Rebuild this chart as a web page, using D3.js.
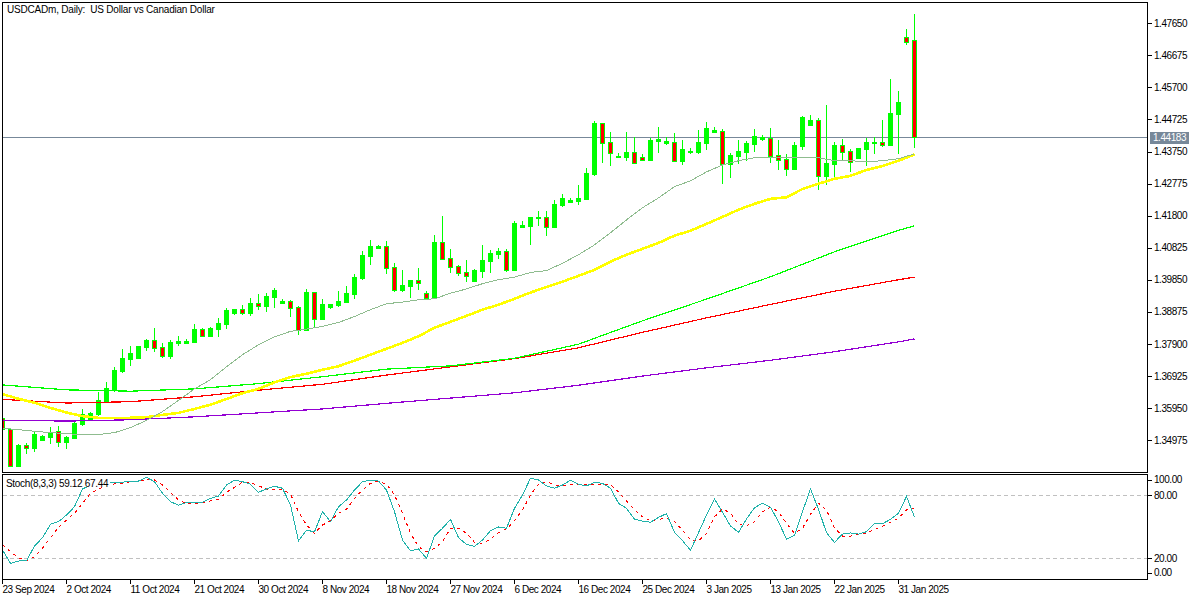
<!DOCTYPE html>
<html>
<head>
<meta charset="utf-8">
<title>USDCADm, Daily</title>
<script src="https://cdnjs.cloudflare.com/ajax/libs/d3/7.8.5/d3.min.js"></script>
<style>
	html, body {margin:0; padding:0; background:#fff;}
	svg {display:block;}
	text {font-family:"Liberation Sans", Arial, sans-serif; font-size:10px; fill:#000;}
	.axis path {display:none;}
	.axis line {stroke:#000; shape-rendering:crispEdges;}
	.axis text, .price_box {letter-spacing:-0.45px;}
	.title {letter-spacing:-0.2px; white-space:pre;}
	.stoch_label {letter-spacing:-0.33px;}
</style>
</head>
<body>
<svg id="chart" width="1200" height="600"></svg>
<script>
var open_prices = [1.3563,1.3530,1.3419,1.3482,1.3474,1.3497,1.3507,1.3524,1.3491,1.3504,1.3546,1.3559,1.3577,1.3616,1.3653,1.3707,1.3744,1.3747,1.3780,1.3802,
	1.3779,1.3753,1.3792,1.3792,1.3796,1.3835,1.3814,1.3835,1.3850,1.3884,1.3896,1.3884,1.3914,1.3905,1.3932,1.3914,1.3920,1.3902,1.3832,1.3948,
	1.3866,1.3902,1.3908,1.3917,1.3942,1.3990,1.4057,1.4082,1.4088,1.4024,1.3954,1.3966,1.3984,1.3945,1.3929,1.4100,1.4051,1.4027,1.4009,1.3981,
	1.4012,1.4042,1.4063,1.4072,1.4015,1.4146,1.4149,1.4173,1.4176,1.4146,1.4212,1.4222,1.4225,1.4231,1.4307,1.4462,1.4404,1.4358,1.4358,1.4374,
	1.4358,1.4349,1.4407,1.4401,1.4404,1.4346,1.4374,1.4374,1.4401,1.4435,1.4438,1.4337,1.4361,1.4374,1.4398,1.4413,1.4416,1.4365,1.4352,1.4322,
	1.4392,1.4456,1.4471,1.4301,1.4337,1.4395,1.4377,1.4355,1.4383,1.4401,1.4404,1.4395,1.4489,1.4723,1.4714];
var high_prices = [1.3567,1.3531,1.3484,1.3489,1.3523,1.3512,1.3537,1.3540,1.3511,1.3558,1.3592,1.3583,1.3643,1.3674,1.3719,1.3774,1.3783,1.3783,1.3805,1.3838,
	1.3792,1.3802,1.3814,1.3805,1.3850,1.3838,1.3841,1.3869,1.3899,1.3896,1.3908,1.3929,1.3942,1.3945,1.3960,1.3926,1.3923,1.3905,1.3957,1.3948,
	1.3926,1.3911,1.3951,1.3966,1.4002,1.4072,1.4106,1.4091,1.4103,1.4036,1.4015,1.3984,1.4021,1.3951,1.4121,1.4179,1.4079,1.4030,1.4045,1.4018,
	1.4091,1.4075,1.4082,1.4079,1.4164,1.4164,1.4176,1.4194,1.4194,1.4228,1.4246,1.4234,1.4273,1.4325,1.4468,1.4462,1.4434,1.4371,1.4434,1.4419,
	1.4368,1.4416,1.4450,1.4419,1.4431,1.4410,1.4386,1.4441,1.4465,1.4450,1.4444,1.4371,1.4410,1.4407,1.4444,1.4425,1.4447,1.4410,1.4368,1.4404,
	1.4483,1.4486,1.4477,1.4516,1.4404,1.4413,1.4383,1.4386,1.4416,1.4419,1.4471,1.4596,1.4559,1.4748,1.4793];
var low_prices = [1.3528,1.3418,1.3415,1.3456,1.3462,1.3496,1.3486,1.3476,1.3470,1.3503,1.3540,1.3558,1.3570,1.3610,1.3643,1.3701,1.3722,1.3747,1.3768,1.3765,
	1.3747,1.3744,1.3783,1.3790,1.3793,1.3811,1.3814,1.3811,1.3835,1.3877,1.3877,1.3874,1.3893,1.3887,1.3899,1.3911,1.3871,1.3817,1.3829,1.3838,
	1.3863,1.3896,1.3902,1.3914,1.3926,1.3984,1.4030,1.4079,1.4002,1.3948,1.3948,1.3929,1.3954,1.3929,1.3927,1.4048,1.4006,1.3997,1.3979,1.3981,
	1.3990,1.4006,1.4048,1.4009,1.4015,1.4146,1.4091,1.4149,1.4118,1.4146,1.4206,1.4222,1.4212,1.4228,1.4301,1.4340,1.4331,1.4355,1.4346,1.4337,
	1.4346,1.4346,1.4371,1.4395,1.4343,1.4334,1.4368,1.4368,1.4380,1.4435,1.4276,1.4295,1.4337,1.4346,1.4374,1.4407,1.4340,1.4319,1.4301,1.4319,
	1.4380,1.4456,1.4258,1.4273,1.4298,1.4346,1.4313,1.4355,1.4331,1.4368,1.4389,1.4395,1.4368,1.4699,1.4386];
var close_prices = [1.3531,1.3419,1.3482,1.3474,1.3516,1.3510,1.3523,1.3492,1.3507,1.3549,1.3577,1.3579,1.3619,1.3656,1.3710,1.3747,1.3762,1.3783,1.3802,1.3777,
	1.3753,1.3796,1.3799,1.3799,1.3835,1.3814,1.3838,1.3853,1.3893,1.3896,1.3884,1.3914,1.3905,1.3935,1.3954,1.3920,1.3899,1.3832,1.3948,1.3866,
	1.3911,1.3911,1.3920,1.3945,1.3993,1.4060,1.4088,1.4088,1.4021,1.3954,1.3969,1.3984,1.3975,1.3929,1.4100,1.4048,1.4024,1.4006,1.3997,1.4015,
	1.4045,1.4067,1.4072,1.4015,1.4158,1.4152,1.4176,1.4176,1.4146,1.4215,1.4234,1.4228,1.4234,1.4310,1.4462,1.4401,1.4371,1.4361,1.4374,1.4340,
	1.4349,1.4410,1.4413,1.4407,1.4346,1.4383,1.4377,1.4404,1.4447,1.4441,1.4337,1.4365,1.4377,1.4401,1.4422,1.4419,1.4361,1.4349,1.4322,1.4395,
	1.4480,1.4471,1.4301,1.4340,1.4395,1.4374,1.4343,1.4386,1.4404,1.4404,1.4395,1.4492,1.4526,1.4708,1.44183];

// moving averages read every 2 bars (short ones) and every 8 bars (long ones)
var short_ma_bars = d3.range(0,115,2);
var long_ma_bars = [0,8,16,24,32,40,48,56,64,72,80,88,96,104,112,114];
var ma_grey = [1.3533,1.3529,1.3524,1.3520,1.3517,1.3513,1.3514,1.3520,1.3535,1.3557,1.3584,1.3618,1.3653,1.3681,1.3720,1.3757,1.3787,1.3811,1.3828,1.3835,
	1.3843,1.3855,1.3873,1.3894,1.3912,1.3917,1.3924,1.3927,1.3944,1.3957,1.3973,1.3985,1.3993,1.4007,1.4013,1.4035,1.4061,1.4091,1.4128,1.4167,
	1.4204,1.4234,1.4268,1.4286,1.4313,1.4334,1.4347,1.4356,1.4356,1.4356,1.4356,1.4356,1.4347,1.4347,1.4344,1.4347,1.4353,1.4368];
var ma_yellow = [1.3637,1.3623,1.3611,1.3595,1.3581,1.3570,1.3565,1.3565,1.3565,1.3567,1.3574,1.3580,1.3592,1.3605,1.3622,1.3640,1.3653,1.3673,1.3689,1.3699,
	1.3711,1.3722,1.3739,1.3757,1.3775,1.3793,1.3813,1.3839,1.3857,1.3875,1.3894,1.3909,1.3927,1.3946,1.3963,1.3979,1.3997,1.4015,1.4040,1.4061,
	1.4079,1.4097,1.4119,1.4134,1.4155,1.4176,1.4198,1.4216,1.4231,1.4236,1.4261,1.4277,1.4292,1.4301,1.4319,1.4331,1.4347,1.4366];
var ma_lime = [1.3665,1.3650,1.3646,1.3653,1.3669,1.3690,1.3713,1.3723,1.3746,1.3789,1.3860,1.3926,1.3994,1.4070,1.4135,1.4149];
var ma_red = [1.3621,1.3610,1.3614,1.3629,1.3649,1.3667,1.3695,1.3720,1.3745,1.3778,1.3825,1.3869,1.3910,1.3950,1.3985,1.3993];
var ma_purple = [1.3558,1.3555,1.3559,1.3568,1.3580,1.3592,1.3609,1.3625,1.3641,1.3664,1.3692,1.3717,1.3740,1.3766,1.3796,1.3805];

var stoch_main = [27.9,15.2,17.4,17.7,31.7,39.6,52.4,54.9,61.2,69.1,86.0,89.8,91.4,92.0,92.4,92.4,93.6,93.6,97.1,93.0,
	81.9,73.9,70.5,73.3,73.3,73.3,77.1,79.3,89.8,94.3,93.0,90.5,82.9,86.0,88.6,86.7,70.8,36.5,46.7,45.3,
	64.4,54.9,69.1,75.5,85.0,93.0,94.3,93.6,85.0,64.4,37.4,27.2,28.9,20.0,41.2,48.6,57.1,39.6,33.3,31.4,
	37.4,46.3,49.8,48.6,67.6,80.3,96.2,94.6,88.9,86.7,89.8,94.3,90.5,88.9,92.4,91.4,86.7,72.4,67.6,57.4,
	55.5,54.3,59.0,62.5,44.8,36.8,27.6,44.4,61.2,76.5,63.8,50.8,44.8,57.4,68.2,72.4,68.6,54.9,38.1,41.9,
	64.4,86.0,66.7,44.4,35.2,43.1,44.1,43.1,45.3,53.0,53.0,57.1,62.9,79.0,59.12];
var stoch_signal = [32.7,26.3,20.6,17.7,21.5,29.5,39.6,49.5,56.5,62.9,72.4,81.9,86.0,89.1,90.8,91.4,93.0,93.6,94.6,94.6,
	89.8,82.9,75.5,72.4,72.4,73.0,74.6,76.2,82.9,87.6,92.4,92.0,89.1,86.0,86.0,86.0,81.0,64.4,51.7,43.8,
	51.7,55.5,62.9,66.7,77.1,85.0,91.4,93.6,90.5,80.3,62.9,43.8,31.0,26.3,29.5,35.8,48.6,48.6,43.8,35.2,
	34.3,38.4,44.4,47.9,55.8,66.0,80.3,90.5,93.0,89.8,89.1,90.5,90.5,90.1,90.5,90.8,89.8,83.4,74.6,66.0,
	59.6,55.8,57.1,58.1,54.9,47.0,37.4,36.5,43.8,59.6,66.7,63.4,52.4,50.8,54.9,64.4,68.6,64.4,53.3,43.8,
	48.6,61.9,72.4,66.0,48.6,41.2,41.2,42.9,44.1,47.6,50.5,54.3,58.1,66.0,67.44];

var price_ticks = [1.47650,1.46675,1.45700,1.44725,1.43750,1.42775,1.41800,1.40825,1.39850,1.38875,1.37900,1.36925,1.35950,1.34975];
var stoch_ticks = [100,80,20,0];
var stoch_levels = [80,20];
var date_ticks = [0,8,16,24,32,40,48,56,64,72,80,88,96,104,112];
var date_labels = ["23 Sep 2024","2 Oct 2024","11 Oct 2024","21 Oct 2024","30 Oct 2024","8 Nov 2024","18 Nov 2024","27 Nov 2024","6 Dec 2024","16 Dec 2024","25 Dec 2024","3 Jan 2025","13 Jan 2025","22 Jan 2025","31 Jan 2025"];
var last_price = 1.44183;

var svg = d3.select("#chart");
var left = 2, right = 1147, main_top = 2, main_bottom = 472, sub_top = 474, sub_bottom = 579;

var x = d3.scaleLinear().domain([0,114]).range([2,914]);
var y = d3.scaleLinear().domain([1.47650,1.34975]).range([23.3,440]);
var y_stoch = d3.scaleLinear().domain([0,100]).range([579.3,474.3]);

svg.append("clipPath").attr("id","main_clip").append("rect")
	.attr("x",left+1).attr("y",main_top+1).attr("width",right-left-1).attr("height",main_bottom-main_top-1);
svg.append("clipPath").attr("id","sub_clip").append("rect")
	.attr("x",left+1).attr("y",sub_top+1).attr("width",right-left-1).attr("height",sub_bottom-sub_top-1);

var main = svg.append("g").attr("clip-path","url(#main_clip)");
var sub = svg.append("g").attr("clip-path","url(#sub_clip)");

/////////////////////////////////////////////////////////////
// last price line, below the candles
main.append("rect")
	.attr("x",left).attr("width",right-left)
	.attr("y",Math.floor(y(last_price))).attr("height",1)
	.attr("fill","#778899");

/////////////////////////////////////////////////////////////
// candles, the datum of each one is its bar number
function body_top(i){return Math.round(y(Math.max(open_prices[i],close_prices[i])));}
function body_bottom(i){return Math.round(y(Math.min(open_prices[i],close_prices[i])));}

var candles = main.selectAll(".candle").data(d3.range(open_prices.length)).enter().append("g")
	.attr("class","candle")
	.attr("shape-rendering","crispEdges");

candles.append("rect")
	.attr("x",function(i){return x(i);})
	.attr("width",1)
	.attr("y",function(i){return Math.round(y(high_prices[i]));})
	.attr("height",function(i){return Math.max(1,Math.round(y(low_prices[i]))-Math.round(y(high_prices[i])));})
	.attr("fill","#00ff00");

candles.append("rect")
	.attr("x",function(i){return x(i)-2;})
	.attr("width",5)
	.attr("y",body_top)
	.attr("height",function(i){return Math.max(1,body_bottom(i)-body_top(i)+1);})
	.attr("fill","#00ff00");

// bear candles keep the lime border, red inside
candles.filter(function(i){return close_prices[i]<open_prices[i];}).append("rect")
	.attr("x",function(i){return x(i)-1;})
	.attr("width",3)
	.attr("y",function(i){return body_top(i)+1;})
	.attr("height",function(i){return Math.max(1,body_bottom(i)-body_top(i)-1);})
	.attr("fill","#ff0000");

/////////////////////////////////////////////////////////////
// moving averages
function draw_ma(bars,values,color,width){
	var line = d3.line()
		.x(function(d,i){return x(bars[i])+0.5;})
		.y(function(d){return y(d);});
	main.append("path")
		.attr("d",line(values))
		.attr("fill","none")
		.attr("stroke",color)
		.attr("stroke-width",width)
		.attr("shape-rendering","crispEdges");
}

draw_ma(long_ma_bars,ma_purple,"#9400d3",1.2);
draw_ma(long_ma_bars,ma_red,"#ff0000",1.2);
draw_ma(long_ma_bars,ma_lime,"#00ff00",1.2);
draw_ma(short_ma_bars,ma_yellow,"#ffff00",2.6);
draw_ma(short_ma_bars,ma_grey,"#8fbc8f",1);

/////////////////////////////////////////////////////////////
// stochastic window
sub.selectAll(".level").data(stoch_levels).enter().append("line")
	.attr("class","level")
	.attr("x1",left+1).attr("x2",right)
	.attr("y1",function(d){return Math.floor(y_stoch(d))+0.5;})
	.attr("y2",function(d){return Math.floor(y_stoch(d))+0.5;})
	.attr("stroke","#c0c0c0")
	.attr("stroke-dasharray","4,3")
	.attr("shape-rendering","crispEdges");

var stoch_line = d3.line()
	.x(function(d,i){return x(i)+0.5;})
	.y(function(d){return y_stoch(d);});

sub.append("path").attr("d",stoch_line(stoch_signal))
	.attr("fill","none").attr("stroke","#ff0000").attr("stroke-width",1)
	.attr("stroke-dasharray","3,4").attr("shape-rendering","crispEdges");
sub.append("path").attr("d",stoch_line(stoch_main))
	.attr("fill","none").attr("stroke","#20b2aa").attr("stroke-width",1)
	.attr("shape-rendering","crispEdges");

sub.append("rect").attr("x",5).attr("y",476).attr("width",105).attr("height",11).attr("fill","#fff");
svg.append("text").attr("class","stoch_label").attr("x",6).attr("y",486.5)
	.text("Stoch(8,3,3) "+stoch_main[114].toFixed(2)+" "+stoch_signal[114].toFixed(2));

svg.append("text").attr("class","title").attr("x",7).attr("y",12.5)
	.text("USDCADm, Daily:  US Dollar vs Canadian Dollar");

/////////////////////////////////////////////////////////////
// frames
[[main_top,main_bottom],[sub_top,sub_bottom]].forEach(function(f){
	svg.append("rect")
		.attr("x",left+0.5).attr("y",f[0]+0.5)
		.attr("width",right-left).attr("height",f[1]-f[0])
		.attr("fill","none").attr("stroke","#000")
		.attr("shape-rendering","crispEdges");
});

/////////////////////////////////////////////////////////////
// axes
var price_axis = d3.axisRight(y)
	.tickValues(price_ticks)
	.tickSize(4)
	.tickPadding(2)
	.tickFormat(d3.format(".5f"));
svg.append("g").attr("class","axis")
	.attr("transform","translate("+(right+1)+",0)")
	.call(price_axis);

var stoch_axis = d3.axisRight(y_stoch)
	.tickValues(stoch_ticks)
	.tickSize(4)
	.tickPadding(2)
	.tickFormat(d3.format(".2f"));
var stoch_g = svg.append("g").attr("class","axis")
	.attr("transform","translate("+(right+1)+",0)")
	.call(stoch_axis);
// the labels at both ends are pushed inside the window
stoch_g.selectAll(".tick").attr("transform",function(d){
	return "translate(0,"+Math.max(480,Math.min(573,Math.floor(y_stoch(d))+0.5))+")";
});

var date_axis = d3.axisBottom(x)
	.tickValues(date_ticks)
	.tickSize(4)
	.tickPadding(2)
	.tickFormat(function(d,i){return date_labels[i];});
var date_g = svg.append("g").attr("class","axis")
	.attr("transform","translate(0,"+(sub_bottom+1)+")")
	.call(date_axis);
date_g.selectAll("text").attr("text-anchor","start").attr("x",0);

/////////////////////////////////////////////////////////////
// last price box
svg.append("rect")
	.attr("x",1150).attr("width",39)
	.attr("y",Math.floor(y(last_price))-5).attr("height",12)
	.attr("fill","#778899");
svg.append("text").attr("class","price_box")
	.attr("x",1153).attr("y",y(last_price)+4)
	.style("fill","#fff")
	.text(d3.format(".5f")(last_price));

svg.selectAll("text").style("font-size","10px");
</script>
</body>
</html>
